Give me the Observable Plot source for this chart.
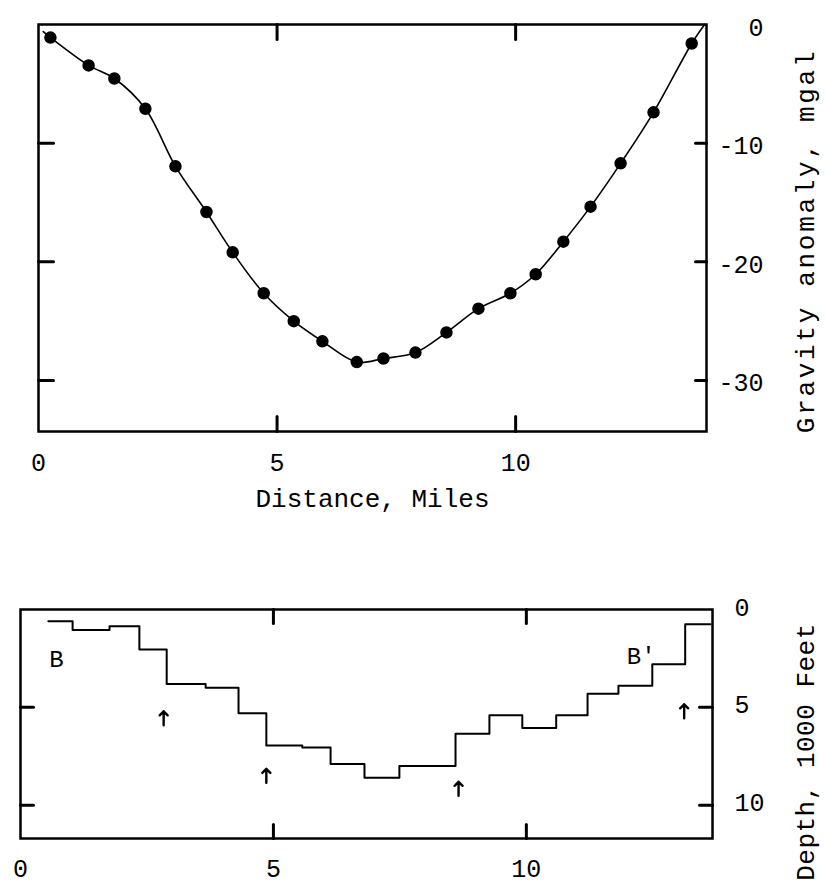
<!DOCTYPE html>
<html>
<head>
<meta charset="utf-8">
<script src="https://cdn.jsdelivr.net/npm/d3@7"></script>
<script src="https://cdn.jsdelivr.net/npm/@observablehq/plot@0.6"></script>
<style>
  html, body { margin: 0; padding: 0; background: #fff; }
  #wrap { position: relative; width: 825px; height: 888px; overflow: hidden; background: #fff; }
  #top { position: absolute; left: 0; top: 0; }
  #bot { position: absolute; left: 0; top: 520px; }
  svg { font-family: "Liberation Mono", monospace; overflow: visible; }
</style>
</head>
<body>
<div id="wrap"><div id="top"></div><div id="bot"></div></div>
<script>
// ---- Top panel: gravity anomaly profile ----
const distance = [0.25, 1.05, 1.59, 2.24, 2.87, 3.52, 4.07, 4.72, 5.35, 5.95, 6.67,
                  7.23, 7.90, 8.55, 9.22, 9.89, 10.42, 11.00, 11.57, 12.20, 12.89, 13.69];
const gravity  = [-1.1, -3.45, -4.55, -7.1, -11.95, -15.8, -19.2, -22.65, -25.0, -26.7, -28.45,
                  -28.15, -27.65, -25.95, -23.95, -22.65, -21.05, -18.3, -15.35, -11.7, -7.4, -1.6];
const curveStart = [0.10, -0.6];
const curveEnd = [13.96, 0];
const gravXTicks = [0, 5, 10];
const gravYTicks = [0, -10, -20, -30];
const gravTitle = "Gravity anomaly, mgal";
const xTitle = "Distance, Miles";

// ---- Bottom panel: depth model (B - B') ----
const stepDistance = [0.55, 1.03, 1.76, 2.35, 2.89, 3.66, 4.31, 4.86, 5.57, 6.13, 6.80,
                      7.49, 8.60, 9.27, 9.92, 10.59, 11.21, 11.82, 12.49, 13.14, 13.64];
const stepDepth = [0.6, 1.05, 0.85, 2.05, 3.8, 4.0, 5.3, 6.95, 7.05, 7.9, 8.6,
                   8.0, 6.35, 5.4, 6.05, 5.4, 4.3, 3.9, 2.8, 0.75, 0.75];
const arrowDistance = [2.83, 4.86, 8.66, 13.12];
const arrowDepth = [5.56, 8.5, 9.16, 5.2];
const sectionLabels = ["B", "B'"];
const sectionLabelDistance = [0.71, 12.27];
const sectionLabelDepth = [2.56, 2.41];
const depthXTicks = [0, 5, 10];
const depthYTicks = [0, 5, 10];
const depthTitle = "Depth, 1000 Feet";

// build tables
const pts = distance.map((d, i) => ({distance: d, gravity: gravity[i]}));
const curve = [{distance: curveStart[0], gravity: curveStart[1]}, ...pts,
               {distance: curveEnd[0], gravity: curveEnd[1]}];
const steps = stepDistance.map((d, i) => ({distance: d, depth: stepDepth[i]}));
const arrows = arrowDistance.map((d, i) => ({distance: d, depth: arrowDepth[i]}));
const labels = sectionLabels.map((t, i) => ({t, distance: sectionLabelDistance[i], depth: sectionLabelDepth[i]}));

const tickShape = {draw(ctx, l) { ctx.moveTo(0, 0); ctx.lineTo(0, -l); }};
function inTicks(values, side, len) {
  const rot = {bottom: 0, top: 180, left: 90, right: -90}[side];
  const chan = (side === "bottom" || side === "top") ? {x: d => d} : {y: d => d};
  return Plot.vector(values, {...chan, frameAnchor: side, rotate: rot, length: len,
    anchor: "start", shape: tickShape, stroke: "black", strokeWidth: 3});
}
const fmt = d => String(d);
function spaceText(svg, content, spacing) {
  d3.select(svg).selectAll("text").filter(function() { return this.textContent === content; })
    .style("letter-spacing", spacing + "px");
}

const gravPlot = Plot.plot({
  width: 825, height: 520,
  marginTop: 24, marginRight: 119, marginBottom: 89, marginLeft: 38,
  x: {domain: [0, 14]},
  y: {domain: [-34.3, 0]},
  marks: [
    Plot.frame({stroke: "black", strokeWidth: 2.5}),
    inTicks([5, 10], "top", 15),
    inTicks([5, 10], "bottom", 15),
    inTicks([-10, -20, -30], "left", 15),
    inTicks([-10, -20, -30], "right", 11),
    Plot.axisX(gravXTicks, {anchor: "bottom", tickSize: 0, tickPadding: 31, lineAnchor: "middle",
      tickFormat: fmt, fontSize: 25, label: null}),
    Plot.axisY(gravYTicks, {anchor: "right", tickSize: 0, tickPadding: 57, textAnchor: "end",
      dy: 3, tickFormat: fmt, fontSize: 25, label: null}),
    Plot.line(curve, {x: "distance", y: "gravity", curve: "catmull-rom", stroke: "black", strokeWidth: 1.6}),
    Plot.dot(pts, {x: "distance", y: "gravity", r: 5.5, fill: "black", stroke: "black"}),
    Plot.text([gravTitle], {text: d => d, frameAnchor: "right", dx: 99, dy: 13, rotate: -90,
      textAnchor: "middle", lineAnchor: "middle", fontSize: 26}),
    Plot.text([xTitle], {text: d => d, frameAnchor: "bottom", dy: 67,
      textAnchor: "middle", lineAnchor: "middle", fontSize: 26})
  ]
});
spaceText(gravPlot, gravTitle, 2.7);
document.getElementById("top").appendChild(gravPlot);

const depthPlot = Plot.plot({
  width: 825, height: 368,
  marginTop: 89, marginRight: 113, marginBottom: 50, marginLeft: 20,
  x: {domain: [0, 13.68]},
  y: {domain: [0, 11.7], reverse: true},
  marks: [
    Plot.frame({stroke: "black", strokeWidth: 2.5}),
    inTicks([5, 10], "top", 14),
    inTicks([5, 10], "bottom", 14),
    inTicks([5, 10], "left", 13),
    inTicks([5, 10], "right", 13),
    Plot.axisX(depthXTicks, {anchor: "bottom", tickSize: 0, tickPadding: 30, lineAnchor: "middle",
      tickFormat: fmt, fontSize: 25, label: null}),
    Plot.axisY(depthYTicks, {anchor: "right", tickSize: 0, tickPadding: 22, textAnchor: "start",
      dy: -2, tickFormat: fmt, fontSize: 25, label: null}),
    Plot.line(steps, {x: "distance", y: "depth", curve: "step-after", stroke: "black", strokeWidth: 2}),
    Plot.vector(arrows, {x: "distance", y: "depth", length: 14, r: 5, anchor: "middle",
      stroke: "black", strokeWidth: 2.4}),
    Plot.text(labels, {x: "distance", y: "depth", text: "t", fontSize: 24, fill: "black"}),
    Plot.text([depthTitle], {text: d => d, frameAnchor: "right", dx: 93, dy: 28, rotate: -90,
      textAnchor: "middle", lineAnchor: "middle", fontSize: 26})
  ]
});
spaceText(depthPlot, depthTitle, 0.5);
document.getElementById("bot").appendChild(depthPlot);
</script>
</body>
</html>
